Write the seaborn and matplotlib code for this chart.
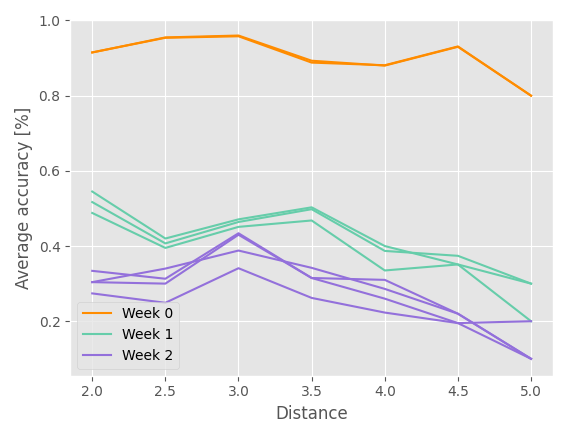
import matplotlib
matplotlib.use("Agg")
import matplotlib.pyplot as plt
import pandas as pd
import seaborn as sns

distance = [2.0, 2.5, 3.0, 3.5, 4.0, 4.5, 5.0]

week0_runs = [
    [0.915, 0.955, 0.960, 0.893, 0.880, 0.930, 0.800],
    [0.915, 0.954, 0.958, 0.888, 0.881, 0.931, 0.800],
]
week1_runs = [
    [0.545, 0.420, 0.471, 0.503, 0.400, 0.351, 0.300],
    [0.517, 0.407, 0.464, 0.498, 0.387, 0.374, 0.300],
    [0.488, 0.395, 0.451, 0.468, 0.335, 0.351, 0.200],
]
week2_runs = [
    [0.334, 0.313, 0.434, 0.315, 0.310, 0.220, 0.100],
    [0.304, 0.340, 0.388, 0.342, 0.286, 0.220, 0.100],
    [0.304, 0.300, 0.430, 0.315, 0.260, 0.195, 0.100],
    [0.274, 0.249, 0.341, 0.262, 0.223, 0.195, 0.200],
]

rows = []
for week, runs in [("Week 0", week0_runs), ("Week 1", week1_runs), ("Week 2", week2_runs)]:
    for i, run in enumerate(runs):
        for d, v in zip(distance, run):
            rows.append({"week": week, "run": f"{week}-{i}", "distance": d, "accuracy": v})
df = pd.DataFrame(rows)

plt.style.use("ggplot")
palette = {"Week 0": "#ff8c00", "Week 1": "#66cdaa", "Week 2": "#9370db"}

fig, ax = plt.subplots(figsize=(5.68, 4.38), dpi=100)
sns.lineplot(data=df, x="distance", y="accuracy", hue="week", units="run",
             estimator=None, palette=palette, linewidth=1.5, ax=ax)
ax.set_ylim(0.055, 1.0)
ax.set_xlabel("Distance")
ax.set_ylabel("Average accuracy [%]")
handles, labels = ax.get_legend_handles_labels()
ax.legend(handles, labels, loc="lower left", facecolor="#e5e5e5", fontsize=10)
fig.tight_layout()
fig.savefig("out.png", dpi=100)
